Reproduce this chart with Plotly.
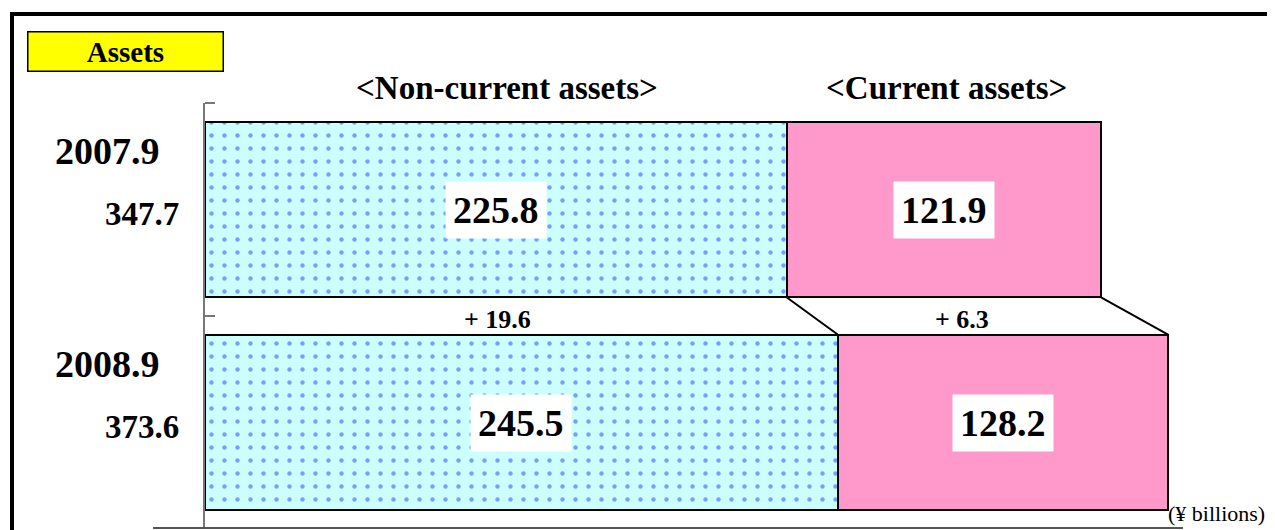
import plotly.graph_objects as go

# ---- data ----
periods = ["2007.9", "2008.9"]
non_current = [225.8, 245.5]
current = [121.9, 128.2]
totals = ["347.7", "373.6"]
diff_non_current = "+ 19.6"
diff_current = "+ 6.3"
header_labels = ["<Non-current assets>", "<Current assets>"]
unit_label = "(¥ billions)"
title_label = "Assets"

# ---- layout geometry (window pixels) ----
OFF = 8                      # default page margin around the plot div
WIN_W, WIN_H = 1275, 530
W, H = WIN_W - OFF, WIN_H - OFF
L, R, T, B = 205, 1183, 103, 529
X_MAX = 379.5
BAR_HALF = 0.413
SERIF = "Liberation Serif"


def px(x):
    return (x - L) / (R - L)


def py(y):
    return (B - y) / (B - T)


fig = go.Figure()
fig.add_trace(go.Bar(
    y=periods, x=non_current, orientation="h", name="Non-current assets",
    marker=dict(color="#ccffff", line=dict(color="black", width=2),
                pattern=dict(shape=".", fgcolor="#1f3fff", bgcolor="#ccffff",
                             size=13, solidity=0.09)),
    hoverinfo="x",
))
fig.add_trace(go.Bar(
    y=periods, x=current, orientation="h", name="Current assets",
    marker=dict(color="#ff99cc", line=dict(color="black", width=2)),
    hoverinfo="x",
))

shapes = []
annotations = []

# series lines connecting bar ends
for i in range(len(periods) - 1):
    ends0 = [non_current[i], non_current[i] + current[i]]
    ends1 = [non_current[i + 1], non_current[i + 1] + current[i + 1]]
    for a, b in zip(ends0, ends1):
        shapes.append(dict(type="line", xref="x", yref="y",
                           x0=a, y0=i + BAR_HALF, x1=b, y1=i + 1 - BAR_HALF,
                           line=dict(color="black", width=2)))

# value labels inside bars
for i, p in enumerate(periods):
    for xc, v in [(non_current[i] / 2, non_current[i]),
                  (non_current[i] + current[i] / 2, current[i])]:
        annotations.append(dict(
            x=xc, y=i, xref="x", yref="y", text=f"{v:.1f}", showarrow=False,
            font=dict(family=SERIF, size=38, color="black", weight="bold"),
            bgcolor="white", borderpad=7))
    # left labels
    annotations.append(dict(
        x=px(107), y=i, xref="paper", yref="y", yshift=59, text=p,
        xanchor="center", yanchor="middle",
        showarrow=False, font=dict(family=SERIF, size=38, color="black", weight="bold")))
    annotations.append(dict(
        x=px(142), y=i, xref="paper", yref="y", yshift=-4, text=totals[i],
        xanchor="center", yanchor="middle",
        showarrow=False, font=dict(family=SERIF, size=33, color="black", weight="bold")))

# difference labels
c0_nc = non_current[0] / 2
c1_nc = non_current[1] / 2
c0_c = non_current[0] + current[0] / 2
c1_c = non_current[1] + current[1] / 2
for txt, xc in [(diff_non_current, (c0_nc + c1_nc) / 2), (diff_current, (c0_c + c1_c) / 2)]:
    annotations.append(dict(
        x=xc, y=0.5, xref="x", yref="y", xshift=-11, yshift=-3, text=txt,
        xanchor="center", yanchor="middle",
        showarrow=False, font=dict(family=SERIF, size=26, color="black", weight="bold")))

# headers
for txt, xp in zip(header_labels, [507, 946]):
    annotations.append(dict(
        x=px(xp), y=py(88), xref="paper", yref="paper", text=txt, showarrow=False,
        xanchor="center", yanchor="middle",
        font=dict(family=SERIF, size=33, color="black", weight="bold")))

# title box
annotations.append(dict(
    x=px(125), y=py(51), xref="paper", yref="paper", text=title_label, showarrow=False,
    xanchor="center", yanchor="middle", width=194, height=38,
    bgcolor="#ffff00", bordercolor="black", borderwidth=1.5, borderpad=0,
    font=dict(family=SERIF, size=29, color="black", weight="bold")))

# unit label
annotations.append(dict(
    x=px(1166), y=py(513), xref="paper", yref="paper", text=unit_label, showarrow=False,
    xanchor="left", yanchor="middle",
    font=dict(family=SERIF, size=22, color="black")))

# outer frame
shapes.append(dict(type="rect", xref="paper", yref="paper",
                   x0=px(12), x1=px(1300), y0=py(560), y1=py(14),
                   line=dict(color="black", width=4), layer="below"))
# bottom line
shapes.append(dict(type="line", xref="paper", yref="paper",
                   x0=px(153), x1=px(1183), y0=py(528), y1=py(528),
                   line=dict(color="#555555", width=2)))
# top category boundary tick
shapes.append(dict(type="line", xref="paper", yref="paper",
                   x0=px(205), x1=px(215), y0=1, y1=1,
                   line=dict(color="#777777", width=2)))

fig.update_layout(
    width=W, height=H, barmode="stack", bargap=1 - 2 * BAR_HALF,
    showlegend=False, plot_bgcolor="white", paper_bgcolor="white",
    margin=dict(l=L - OFF, r=WIN_W - R, t=T - OFF, b=WIN_H - B, pad=0),
    shapes=shapes, annotations=annotations,
)
fig.update_xaxes(range=[0, X_MAX], showgrid=False, zeroline=False,
                 showticklabels=False, showline=False, ticks="")
fig.update_yaxes(autorange="reversed", showticklabels=False, showgrid=False,
                 zeroline=False, showline=True, linecolor="#777777", linewidth=2,
                 ticks="inside", tickson="boundaries", ticklen=10,
                 tickcolor="#777777", tickwidth=2)

fig.write_html("out.html")
